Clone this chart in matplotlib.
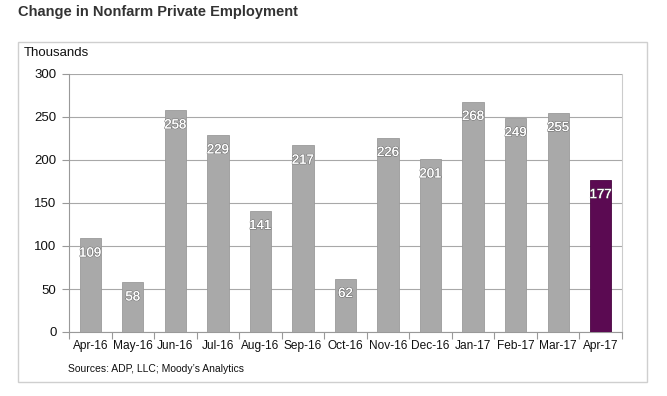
import matplotlib.pyplot as plt
import matplotlib.patheffects as pe
from matplotlib.patches import Rectangle

months = ["Apr-16", "May-16", "Jun-16", "Jul-16", "Aug-16", "Sep-16", "Oct-16",
          "Nov-16", "Dec-16", "Jan-17", "Feb-17", "Mar-17", "Apr-17"]
jobs = [109, 58, 258, 229, 141, 217, 62, 226, 201, 268, 249, 255, 177]
y_ticks = [0, 50, 100, 150, 200, 250, 300]

plt.rcParams['font.family'] = ['Liberation Sans', 'DejaVu Sans']

W, H = 667, 396
fig = plt.figure(figsize=(W / 100, H / 100), dpi=100)

# Plot area in pixel coordinates
left, right, top, bottom = 69, 622, 74, 332
ax = fig.add_axes([left / W, 1 - bottom / H, (right - left) / W, (bottom - top) / H])

colors = ["#a9a9a9"] * (len(jobs) - 1) + ["#5b0a52"]
edges = ["#9a9a9a"] * (len(jobs) - 1) + ["#4a0642"]
x = list(range(len(months)))
bars = ax.bar(x, jobs, width=0.5, color=colors, edgecolor=edges, linewidth=0.6, zorder=3)

# Value labels just inside the top of each bar, white with a small dark shadow
for b, v in zip(bars, jobs):
    ax.annotate(str(v), (b.get_x() + b.get_width() / 2, v), xytext=(0, -11),
                textcoords="offset points", ha="center", va="center",
                color="white", fontsize=9.5, zorder=4,
                path_effects=[pe.withStroke(linewidth=1.0, foreground="#6a6a6a", alpha=0.8),
                              pe.Normal()])

ax.set_xlim(-0.5, len(months) - 0.5)
ax.set_ylim(0, 300)
ax.set_yticks(y_ticks)
ax.set_xticks(x)
ax.set_xticklabels(months)
ax.set_xticks([i + 0.5 for i in range(-1, len(months))], minor=True)
ax.tick_params(axis="x", which="major", length=0, pad=6, labelsize=8.6, colors="#111111")
ax.tick_params(axis="x", which="minor", length=5, width=0.8, color="#999999")
ax.tick_params(axis="y", length=5, width=0.8, color="#999999", pad=4,
               labelsize=9.5, labelcolor="#111111")
ax.grid(axis="y", color="#a8a8a8", linewidth=0.8, zorder=0)

ax.spines["top"].set_visible(False)
ax.spines["left"].set_color("#999999")
ax.spines["bottom"].set_color("#999999")
ax.spines["right"].set_color("#cccccc")
for s in ["left", "bottom", "right"]:
    ax.spines[s].set_linewidth(0.8)

# Outer frame around the chart
fig.patches.append(Rectangle((18 / W, 1 - 382 / H), (647 - 18) / W, (382 - 42) / H,
                             transform=fig.transFigure, fill=False,
                             edgecolor="#cfcfcf", linewidth=1.0))

fig.text(18 / W, 1 - 12 / H, "Change in Nonfarm Private Employment", fontsize=10.5,
         fontweight="bold", color="#333333", va="center", ha="left")
fig.text(24 / W, 1 - 53 / H, "Thousands", fontsize=9.5, color="#111111",
         va="center", ha="left")
fig.text(68 / W, 1 - 369 / H, "Sources: ADP, LLC; Moody\u2019s Analytics", fontsize=7.5,
         color="#111111", va="center", ha="left")

fig.savefig("out.png", dpi=100)
